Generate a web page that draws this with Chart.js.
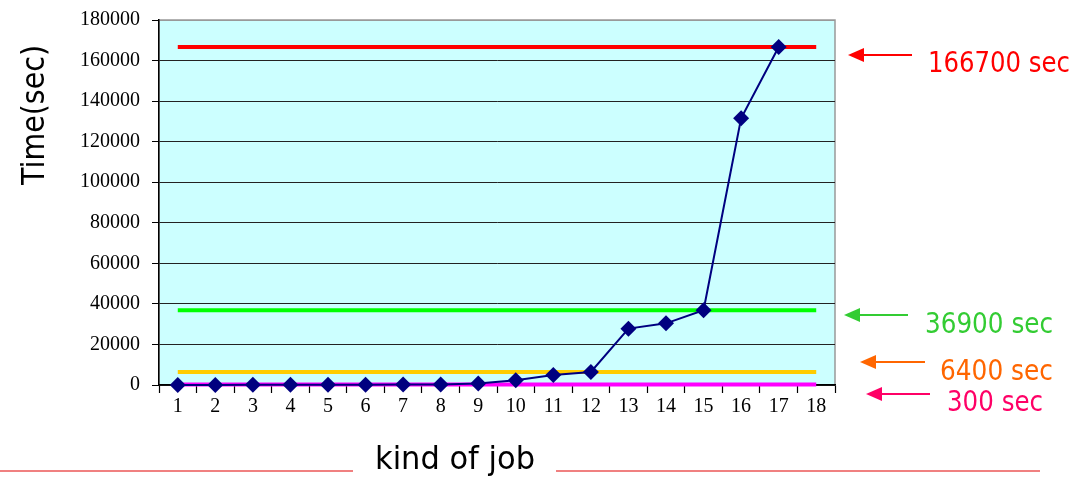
<!DOCTYPE html>
<html>
<head>
<meta charset="utf-8">
<title>kind of job</title>
<script src="https://cdn.jsdelivr.net/npm/chart.js@4/dist/chart.umd.min.js"></script>
<style>
  html, body { margin: 0; padding: 0; background: #fff; }
  canvas { display: block; }
</style>
</head>
<body>
<canvas id="chart" width="1074" height="477"></canvas>
<script>
// Job kinds on the x axis
const categories = ['1','2','3','4','5','6','7','8','9','10','11','12','13','14','15','16','17','18'];

// Measured run time of each job kind, seconds
const jobTimes = [50, 60, 80, 100, 120, 150, 200, 300, 700, 2300, 4900, 6400, 27800, 30400, 36900, 131500, 166700, null];

// Reference time levels, seconds
const levelRed = 166700;
const levelGreen = 36900;
const levelOrange = 6400;
const levelPink = 300;

// Y axis range and step
const yMin = 0;
const yMax = 180000;
const yStep = 20000;

// Side notes: label, colour
const noteLabels = ['166700 sec', '36900 sec', '6400 sec', '300 sec'];
const noteColors = ['#FF0000', '#33CC33', '#FF6600', '#FF0066'];

const flat = v => categories.map(() => v);

const handFont = '"Comic Sans MS", "DejaVu Sans", sans-serif';
const serifFont = '"Liberation Serif", "Times New Roman", serif';

// Plot background, frame and the extra drawn texts/arrows
const decor = {
  id: 'decor',
  beforeDraw(chart) {
    const { ctx, chartArea: a } = chart;
    ctx.save();
    ctx.fillStyle = '#CCFFFF';
    ctx.fillRect(a.left, a.top, a.right - a.left, a.bottom - a.top);
    ctx.strokeStyle = '#999999';
    ctx.lineWidth = 1.5;
    ctx.strokeRect(a.left, a.top, a.right - a.left, a.bottom - a.top);
    ctx.restore();
  },
  afterDraw(chart) {
    const { ctx } = chart;
    ctx.save();

    // y axis title
    ctx.fillStyle = '#000';
    ctx.font = '32px ' + handFont;
    ctx.textAlign = 'center';
    ctx.textBaseline = 'middle';
    ctx.translate(36, 115);
    ctx.rotate(-Math.PI / 2);
    ctx.fillText('Time(sec)', 0, 0, 140);
    ctx.restore();

    ctx.save();
    // x axis title
    ctx.fillStyle = '#000';
    ctx.font = '32px ' + handFont;
    ctx.textAlign = 'center';
    ctx.textBaseline = 'alphabetic';
    ctx.fillText('kind of job', 455, 469, 160);

    // decorative rules beside the x title
    ctx.strokeStyle = '#F08080';
    ctx.lineWidth = 2;
    ctx.beginPath();
    ctx.moveTo(0, 471); ctx.lineTo(353, 471);
    ctx.moveTo(556, 471); ctx.lineTo(1040, 471);
    ctx.stroke();

    // arrows and side notes
    const arrows = [
      { x0: 848, x1: 912, y: 55, tx: 928, ty: 72, w: 142 },
      { x0: 844, x1: 908, y: 315, tx: 925, ty: 333, w: 128 },
      { x0: 860, x1: 925, y: 362, tx: 940, ty: 380, w: 113 },
      { x0: 866, x1: 930, y: 394, tx: 947, ty: 411, w: 96 }
    ];
    arrows.forEach((ar, i) => {
      const c = noteColors[i];
      ctx.strokeStyle = c;
      ctx.fillStyle = c;
      ctx.lineWidth = 2;
      ctx.beginPath();
      ctx.moveTo(ar.x0 + 12, ar.y);
      ctx.lineTo(ar.x1, ar.y);
      ctx.stroke();
      ctx.beginPath();
      ctx.moveTo(ar.x0, ar.y);
      ctx.lineTo(ar.x0 + 16, ar.y - 7);
      ctx.lineTo(ar.x0 + 16, ar.y + 7);
      ctx.closePath();
      ctx.fill();
      ctx.font = '28px ' + handFont;
      ctx.textAlign = 'left';
      ctx.textBaseline = 'alphabetic';
      ctx.fillText(noteLabels[i], ar.tx, ar.ty, ar.w);
    });
    ctx.restore();
  }
};

const levelLine = (value, color, width) => ({
  data: flat(value),
  borderColor: color,
  backgroundColor: color,
  borderWidth: width,
  pointRadius: 0,
  tension: 0,
  fill: false,
  clip: false
});

new Chart(document.getElementById('chart'), {
  type: 'line',
  data: {
    labels: categories,
    datasets: [
      {
        data: jobTimes,
        borderColor: '#000080',
        backgroundColor: '#000080',
        borderWidth: 2,
        pointStyle: 'rectRot',
        pointRadius: 8,
        pointBorderWidth: 0,
        tension: 0,
        fill: false,
        clip: false
      },
      levelLine(levelRed, '#FF0000', 4),
      levelLine(levelGreen, '#00FF00', 4),
      levelLine(levelOrange, '#FFCC00', 4),
      levelLine(levelPink, '#FF00FF', 4)
    ]
  },
  options: {
    responsive: false,
    animation: false,
    layout: { padding: { left: 0, right: 239, top: 20, bottom: 0 } },
    plugins: { legend: { display: false }, tooltip: { enabled: false } },
    scales: {
      x: {
        type: 'category',
        offset: true,
        grid: { offset: true, drawOnChartArea: false, tickLength: 8, tickColor: '#000', tickWidth: 1.2 },
        border: { color: '#000', width: 1.5 },
        ticks: { color: '#000', font: { family: serifFont, size: 20 }, padding: 2, maxRotation: 0, autoSkip: false },
        afterFit: s => { s.height = 92; s.paddingLeft = 0; s.paddingRight = 0; }
      },
      y: {
        min: yMin,
        max: yMax,
        grid: {
          color: ctx => (ctx.tick && ctx.tick.value === yMax) ? '#999999' : '#222222',
          lineWidth: 1,
          tickLength: 7,
          tickColor: '#000'
        },
        border: { color: '#000', width: 1.5 },
        ticks: {
          stepSize: yStep,
          color: '#000',
          font: { family: serifFont, size: 20 },
          padding: 12,
          callback: v => String(v)
        },
        afterFit: s => { s.width = 159; s.paddingTop = 0; s.paddingBottom = 0; }
      }
    }
  },
  plugins: [decor]
});
</script>
</body>
</html>
